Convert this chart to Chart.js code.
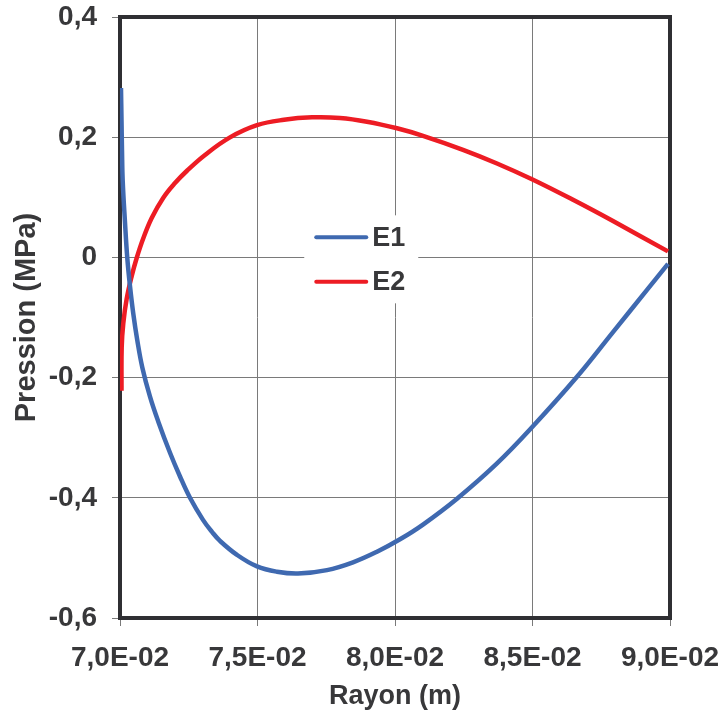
<!DOCTYPE html>
<html>
<head>
<meta charset="utf-8">
<title>Pression / Rayon</title>
<script src="https://cdn.jsdelivr.net/npm/chart.js@4/dist/chart.umd.min.js"></script>
<style>
    html, body { margin: 0; padding: 0; background: #fff; }
    #wrap { width: 724px; height: 720px; }
</style>
</head>
<body>
<div id="wrap"><canvas id="chart" width="724" height="720"></canvas></div>
<script>
// values
const e1Rayon = [0.070036, 0.070055, 0.070073, 0.070098, 0.070182, 0.070265, 0.070364, 0.070484, 0.070629, 0.070811,
    0.071091, 0.071393, 0.071818, 0.072182, 0.072545, 0.073018, 0.073345, 0.073636, 0.074255, 0.074982,
    0.075709, 0.076473, 0.077527, 0.078473, 0.079345, 0.080182, 0.081018, 0.082255, 0.083709, 0.084982,
    0.086618, 0.087927, 0.089164, 0.089927];
const e1Pression = [0.282, 0.228, 0.178, 0.128, 0.058, -0.001, -0.048, -0.094, -0.138, -0.183,
    -0.2317, -0.2733, -0.325, -0.3645, -0.4, -0.4367, -0.4567, -0.4717, -0.495, -0.5142,
    -0.523, -0.526, -0.5203, -0.5073, -0.4897, -0.469, -0.4445, -0.4015, -0.3428, -0.2827,
    -0.1987, -0.1243, -0.054, -0.0107];

const e2Rayon = [0.070055, 0.070062, 0.07012, 0.070244, 0.070425, 0.070607, 0.070847, 0.071153, 0.071575, 0.072,
    0.072436, 0.073091, 0.074, 0.074982, 0.075964, 0.076982, 0.078, 0.078982, 0.080073, 0.081018,
    0.082473, 0.083709, 0.084982, 0.086473, 0.087927, 0.089927];
const e2Pression = [-0.222, -0.1495, -0.1095, -0.0687, -0.0312, -0.001, 0.0318, 0.0655, 0.0993, 0.1237,
    0.1442, 0.1705, 0.1997, 0.22, 0.229, 0.233, 0.232, 0.2258, 0.2148, 0.2023,
    0.179, 0.1563, 0.13, 0.0958, 0.0605, 0.01];

const seriesNames = ["E1", "E2"];
const seriesColors = ["#3f69b0", "#ed1c24"];

const xTickValues = [0.07, 0.075, 0.08, 0.085, 0.09];
const xTickLabels = ["7,0E-02", "7,5E-02", "8,0E-02", "8,5E-02", "9,0E-02"];
const yTickValues = [-0.6, -0.4, -0.2, 0, 0.2, 0.4];
const yTickLabels = ["-0,6", "-0,4", "-0,2", "0", "0,2", "0,4"];

const textColor = "#38383a";
const gridColor = "#7a7a7a";
const fontFamily = "'Liberation Sans', Arial, Helvetica, sans-serif";

const toPoints = (xs, ys) => xs.map((x, i) => ({ x: x, y: ys[i] }));

// keep the plot area fixed: no extra room for overhanging tick labels
function noOverhang(s) {
    s.paddingLeft = 0;
    s.paddingRight = 0;
    s.paddingTop = 0;
    s.paddingBottom = 0;
}

// plot frame drawn under the curves
const framePlugin = {
    id: "frame",
    beforeDatasetsDraw(chart) {
        const { ctx, chartArea: a } = chart;
        ctx.save();
        ctx.strokeStyle = "#2f2f33";
        ctx.lineWidth = 4;
        ctx.strokeRect(a.left, a.top, a.right - a.left, a.bottom - a.top);
        ctx.restore();
    }
};

// legend box sitting inside the plot
const legendPlugin = {
    id: "boxLegend",
    afterDatasetsDraw(chart) {
        const { ctx } = chart;
        const xs = chart.scales.x, ys = chart.scales.y;
        const left = xs.getPixelForValue(0.0767), top = ys.getPixelForValue(0.07);
        ctx.save();
        ctx.fillStyle = "#fff";
        ctx.fillRect(left, top, 114, 88);
        chart.data.datasets.forEach((ds, i) => {
            const cy = top + 22 + i * 44.5;
            ctx.strokeStyle = ds.borderColor;
            ctx.lineWidth = 4;
            ctx.lineCap = "round";
            ctx.beginPath();
            ctx.moveTo(left + 12, cy);
            ctx.lineTo(left + 62, cy);
            ctx.stroke();
            ctx.fillStyle = textColor;
            ctx.font = "bold 27px " + fontFamily;
            ctx.textBaseline = "middle";
            ctx.fillText(ds.label, left + 68, cy + 1);
        });
        ctx.restore();
    }
};

const ctx = document.getElementById("chart").getContext("2d");
new Chart(ctx, {
    type: "scatter",
    data: {
        datasets: [
            { label: seriesNames[0], data: toPoints(e1Rayon, e1Pression) },
            { label: seriesNames[1], data: toPoints(e2Rayon, e2Pression) }
        ].map((d, i) => Object.assign(d, {
            showLine: true,
            borderColor: seriesColors[i],
            backgroundColor: seriesColors[i],
            borderWidth: 4.5,
            pointRadius: 0,
            tension: 0.4
        }))
    },
    options: {
        responsive: false,
        animation: false,
        layout: { padding: { top: 17, right: 54, left: 0, bottom: 0 } },
        plugins: {
            legend: { display: false },
            tooltip: { enabled: false }
        },
        scales: {
            x: {
                type: "linear",
                min: 0.07,
                max: 0.09,
                afterBuildTicks: s => { s.ticks = xTickValues.map(v => ({ value: v })); },
                afterFit: s => { s.height = 102; noOverhang(s); },
                grid: { color: gridColor, lineWidth: 1, tickLength: 8, drawTicks: true },
                border: { display: false },
                ticks: {
                    color: textColor,
                    font: { family: fontFamily, size: 28, weight: "bold" },
                    padding: 15,
                    maxRotation: 0,
                    autoSkip: false,
                    callback: (v, i) => xTickLabels[i]
                },
                title: {
                    display: true,
                    text: "Rayon (m)",
                    color: textColor,
                    font: { family: fontFamily, size: 27, weight: "bold" },
                    padding: { top: 0, bottom: 7 }
                }
            },
            y: {
                type: "linear",
                min: -0.6,
                max: 0.4,
                afterBuildTicks: s => { s.ticks = yTickValues.map(v => ({ value: v })); },
                afterFit: s => { s.width = 120; noOverhang(s); },
                grid: { color: gridColor, lineWidth: 1, tickLength: 8, drawTicks: true },
                border: { display: false },
                ticks: {
                    color: textColor,
                    font: { family: fontFamily, size: 28, weight: "bold" },
                    padding: 15,
                    autoSkip: false,
                    callback: (v, i) => yTickLabels[i]
                },
                title: {
                    display: true,
                    text: "Pression (MPa)",
                    color: textColor,
                    font: { family: fontFamily, size: 29, weight: "bold" },
                    padding: { top: 10, bottom: 0 }
                }
            }
        }
    },
    plugins: [framePlugin, legendPlugin]
});
</script>
</body>
</html>
